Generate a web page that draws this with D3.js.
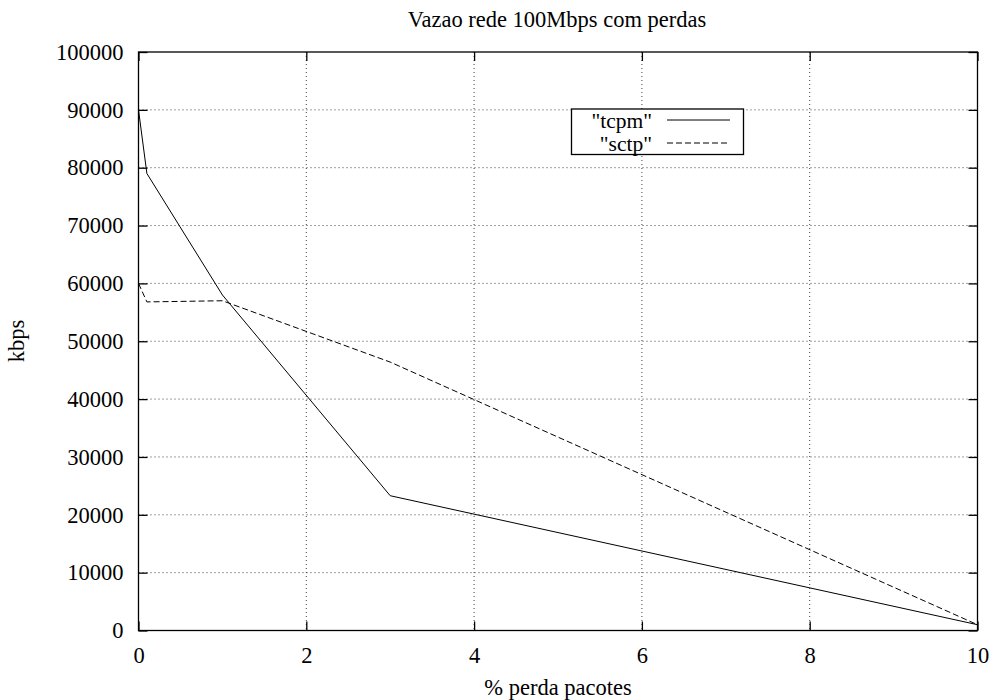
<!DOCTYPE html>
<html>
<head>
<meta charset="utf-8">
<script src="https://cdn.jsdelivr.net/npm/d3@7"></script>
<style>
  html, body { margin: 0; padding: 0; background: #fff; }
  svg { display: block; }
  text { font-family: "Liberation Serif", "Times New Roman", serif; fill: #000; }
</style>
</head>
<body>
<svg id="chart" width="992" height="700"></svg>
<script>
// Throughput on a 100 Mbps link under packet loss
const lossPct   = [0, 0.1, 1, 3, 10];
const tcpmKbps  = [90000, 79000, 58000, 23300, 1000];
const sctpKbps  = [60000, 56800, 57000, 46400, 1000];
const xTicks    = [0, 2, 4, 6, 8, 10];
const yTicks    = [0, 10000, 20000, 30000, 40000, 50000, 60000, 70000, 80000, 90000, 100000];
const seriesNames = ['"tcpm"', '"sctp"'];

const title  = "Vazao rede 100Mbps com perdas";
const xLabel = "% perda pacotes";
const yLabel = "kbps";

const svg = d3.select("#chart");
const plotL = 138.5, plotR = 977.5, plotT = 52, plotB = 630.5;
const fs = 22.5;
const serif = "Liberation Serif, Times New Roman, serif";

const x = d3.scaleLinear().domain([0, 10]).range([plotL, plotR]);
const y = d3.scaleLinear().domain([0, 100000]).range([plotB, plotT]);

// dotted grid
const grid = svg.append("g").attr("stroke", "#000").attr("stroke-width", 1)
  .attr("stroke-dasharray", "1,3").attr("opacity", 0.75);
grid.selectAll("line.gx").data(xTicks.slice(1, -1)).join("line")
  .attr("x1", d => x(d)).attr("x2", d => x(d)).attr("y1", plotT).attr("y2", plotB);
grid.selectAll("line.gy").data(yTicks.slice(1, -1)).join("line")
  .attr("x1", plotL).attr("x2", plotR).attr("y1", d => y(d)).attr("y2", d => y(d));

// axes with inward ticks on all four sides
const tick = 9;
const axL = svg.append("g").attr("transform", `translate(${plotL},0)`)
  .call(d3.axisLeft(y).tickValues(yTicks).tickSize(-tick).tickPadding(15).tickFormat(d3.format("d")));
const axR = svg.append("g").attr("transform", `translate(${plotR},0)`)
  .call(d3.axisRight(y).tickValues(yTicks).tickSize(-tick).tickFormat(""));
const axB = svg.append("g").attr("transform", `translate(0,${plotB})`)
  .call(d3.axisBottom(x).tickValues(xTicks).tickSize(-tick).tickPadding(17).tickFormat(d3.format("d")));
const axT = svg.append("g").attr("transform", `translate(0,${plotT})`)
  .call(d3.axisTop(x).tickValues(xTicks).tickSize(-tick).tickFormat(""));
[axL, axR, axB, axT].forEach(a => {
  a.attr("font-family", serif);
  a.select(".domain").remove();
  a.selectAll(".tick line").attr("stroke", "#000").attr("stroke-width", 1.3);
  a.selectAll("text").style("font-family", serif).attr("font-size", fs).attr("fill", "#000");
});

// frame
svg.append("rect").attr("x", plotL).attr("y", plotT)
  .attr("width", plotR - plotL).attr("height", plotB - plotT)
  .attr("fill", "none").attr("stroke", "#000").attr("stroke-width", 1.3);

// series
const line = d3.line().x(d => x(d[0])).y(d => y(d[1]));
const tcpm = lossPct.map((v, i) => [v, tcpmKbps[i]]);
const sctp = lossPct.map((v, i) => [v, sctpKbps[i]]);
svg.append("path").datum(tcpm).attr("d", line)
  .attr("fill", "none").attr("stroke", "#000").attr("stroke-width", 1);
svg.append("path").datum(sctp).attr("d", line)
  .attr("fill", "none").attr("stroke", "#000").attr("stroke-width", 1).attr("stroke-dasharray", "6,3");

// legend
const lg = svg.append("g");
lg.append("rect").attr("x", 571.5).attr("y", 109).attr("width", 172).attr("height", 45.5)
  .attr("fill", "#fff").attr("stroke", "#000").attr("stroke-width", 1.3);
const rows = [{ name: seriesNames[0], dash: null, yy: 120 }, { name: seriesNames[1], dash: "6,3", yy: 143 }];
rows.forEach(r => {
  lg.append("text").attr("x", 652).attr("y", r.yy).attr("dy", "0.35em")
    .attr("text-anchor", "end").attr("font-size", 21.5).style("font-family", serif).text(r.name);
  lg.append("line").attr("x1", 667).attr("x2", 730).attr("y1", r.yy).attr("y2", r.yy)
    .attr("stroke", "#000").attr("stroke-width", 1).attr("stroke-dasharray", r.dash);
});

// titles
svg.append("text").attr("x", 557).attr("y", 27).attr("text-anchor", "middle")
  .attr("font-size", fs).style("font-family", serif).text(title);
svg.append("text").attr("x", 558).attr("y", 695).attr("text-anchor", "middle")
  .attr("font-size", fs).style("font-family", serif).text(xLabel);
svg.append("text").attr("transform", "translate(24,341) rotate(-90)")
  .attr("text-anchor", "middle").attr("font-size", fs).style("font-family", serif).text(yLabel);
</script>
</body>
</html>
